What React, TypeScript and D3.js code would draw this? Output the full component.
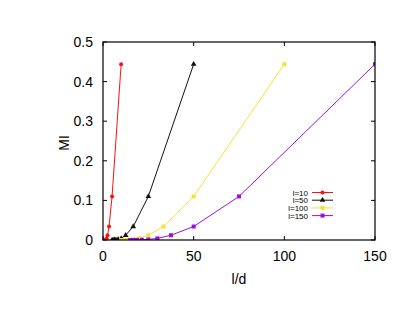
import React from "react";
import * as d3 from "d3";

const lengths = [10, 50, 100, 150];
const divisors = [1, 2, 3, 4, 5, 6, 7, 8, 9, 10];
const miValues = [0.444, 0.110, 0.034, 0.012, 0.004, 0.0015, 0.0006, 0.0003, 0.0001, 0.00005];
const seriesLabels = ["l=10", "l=50", "l=100", "l=150"];
const seriesColors = ["#ff1010", "#111111", "#f2e33a", "#9a10e0"];
const seriesMarkers = ["circle", "triangle", "square", "square"];
const xTicks = [0, 50, 100, 150];
const yTicks = [0, 0.1, 0.2, 0.3, 0.4, 0.5];

const W = 415, H = 321;
const M = { left: 103, right: 40, top: 42, bottom: 81 };

function Marker({ type, x, y, color }: { type: string; x: number; y: number; color: string }) {
  if (type === "circle") return <circle cx={x} cy={y} r={2} fill={color} />;
  if (type === "triangle")
    return <path d={d3.symbol(d3.symbolTriangle, 14)()!} transform={`translate(${x},${y})`} fill={color} />;
  return <rect x={x - 2} y={y - 2} width={4} height={4} fill={color} />;
}

export default function App() {
  const x = d3.scaleLinear().domain([0, 150]).range([M.left, W - M.right]);
  const y = d3.scaleLinear().domain([0, 0.5]).range([H - M.bottom, M.top]);
  const line = d3.line<[number, number]>().x(d => x(d[0])).y(d => y(d[1]));
  const series = lengths.map(l => divisors.map((k, i) => [l / k, miValues[i]] as [number, number]));
  const x0 = M.left, x1 = W - M.right, y0 = H - M.bottom, y1 = M.top;
  const font = "Liberation Sans, Arial, sans-serif";
  return (
    <svg width={W} height={H} style={{ position: "absolute", left: 0, top: 0, background: "#fff" }} fontFamily={font}>
      <defs>
        <clipPath id="clip"><rect x={x0} y={y1} width={x1 - x0} height={y0 - y1} /></clipPath>
      </defs>
      {xTicks.map(t => (
        <g key={"x" + t}>
          <line x1={x(t)} x2={x(t)} y1={y0} y2={y0 - 4} stroke="#000" />
          <line x1={x(t)} x2={x(t)} y1={y1} y2={y1 + 4} stroke="#000" />
          <text x={x(t)} y={y0 + 21} textAnchor="middle" fontSize={14}>{t}</text>
        </g>
      ))}
      {yTicks.map(t => (
        <g key={"y" + t}>
          <line x1={x0} x2={x0 + 4} y1={y(t)} y2={y(t)} stroke="#000" />
          <line x1={x1} x2={x1 - 4} y1={y(t)} y2={y(t)} stroke="#000" />
          <text x={x0 - 10} y={y(t) + 5} textAnchor="end" fontSize={14}>{t === 0 ? "0" : t.toFixed(1)}</text>
        </g>
      ))}
      <g clipPath="url(#clip)">
        {series.map((s, i) => (
          <g key={i}>
            <path d={line(s)!} fill="none" stroke={seriesColors[i]} strokeWidth={1} />
            {s.map((p, j) => <Marker key={j} type={seriesMarkers[i]} x={x(p[0])} y={y(p[1])} color={seriesColors[i]} />)}
          </g>
        ))}
      </g>
      <rect x={x0} y={y1} width={x1 - x0} height={y0 - y1} fill="none" stroke="#000" strokeWidth={1.2} />
      <text x={(x0 + x1) / 2} y={284} textAnchor="middle" fontSize={14}>l/d</text>
      <text transform={`translate(68.5,143) rotate(-90)`} textAnchor="middle" fontSize={14}>MI</text>
      {seriesLabels.map((lab, i) => {
        const ly = 192.5 + i * 7.7;
        return (
          <g key={lab}>
            <text x={308} y={ly + 3} textAnchor="end" fontSize={8}>{lab}</text>
            <line x1={312} x2={333} y1={ly} y2={ly} stroke={seriesColors[i]} />
            <Marker type={seriesMarkers[i]} x={322.5} y={ly} color={seriesColors[i]} />
          </g>
        );
      })}
    </svg>
  );
}
